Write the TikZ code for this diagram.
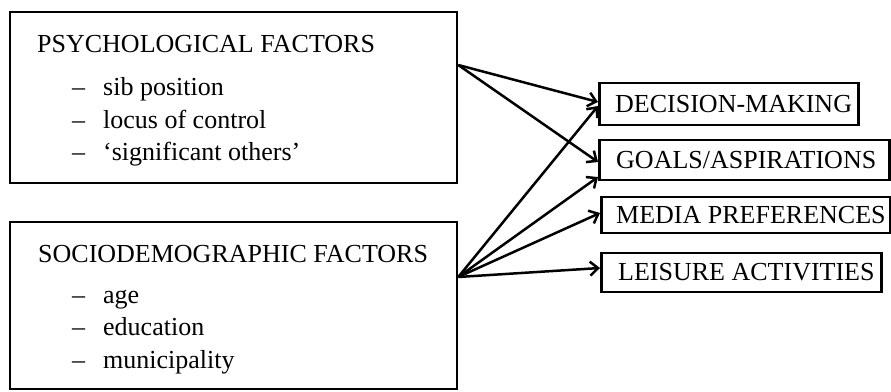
\documentclass[tikz,border=0pt]{standalone}
\usepackage{fontspec}
\setmainfont{Liberation Serif}
\usetikzlibrary{positioning,arrows.meta}
\tikzset{
  factorbox/.style={draw, line width=2.5pt, inner sep=0pt, minimum width=447pt},
  outbox/.style={draw, line width=2.5pt, inner sep=0pt, anchor=west},
  boxtext/.style={inner sep=0pt, anchor=base west},
  link/.style={line width=2.5pt, -{Straight Barb[length=8pt,width=14pt]}},
}
\begin{document}
\begin{tikzpicture}[x=1pt, y=1pt, font=\fontsize{26}{30}\selectfont]
  %\draw[help lines, step=50] (0,0) grid (891,391);
  \useasboundingbox (0,0) rectangle (891,391);

  \node[factorbox, minimum height=171pt] (psych) at (233.5,293.5) {};
  \node[boxtext] (psychtitle) at (37,338) {PSYCHOLOGICAL FACTORS};
  \node[boxtext] (sib) at (72,295) {--\hspace{18pt}sib position};
  \node[boxtext] (locus) at (72,262) {--\hspace{18pt}locus of control};
  \node[boxtext] (others) at (72,230) {--\hspace{18pt}‘significant others’};

  \node[factorbox, minimum height=167pt] (socio) at (233.5,85.5) {};
  \node[boxtext] (sociotitle) at (38,128) {SOCIODEMOGRAPHIC FACTORS};
  \node[boxtext] (age) at (72,88) {--\hspace{18pt}age};
  \node[boxtext] (educ) at (72,56) {--\hspace{18pt}education};
  \node[boxtext] (munic) at (72,23) {--\hspace{18pt}municipality};

  \node[outbox, minimum width=259pt, minimum height=42pt] (decide) at (598,287) {};
  \node[inner sep=0pt, right=17pt of decide.west] (decidetext) {DECISION-MAKING};
  \node[outbox, minimum width=290pt, minimum height=40pt] (goals) at (598,231) {};
  \node[inner sep=0pt, right=18pt of goals.west] (goalstext) {GOALS/ASPIRATIONS};
  \node[outbox, minimum width=289pt, minimum height=36pt] (media) at (600,176) {};
  \node[inner sep=0pt, right=16pt of media.west] (mediatext) {MEDIA PREFERENCES};
  \node[outbox, minimum width=280pt, minimum height=39pt] (leisure) at (600,118.5) {};
  \node[inner sep=0pt, right=18pt of leisure.west] (leisuretext) {LEISURE ACTIVITIES};

  \coordinate (psychout) at ([yshift=32.5pt]psych.east);
  \coordinate (socioout) at ([yshift=28.5pt]socio.east);
  \draw[link] (psychout) -- ([yshift=2pt]decide.west);
  \draw[link] (psychout) -- ([yshift=-2pt]goals.west);
  \draw[link] (socioout) -- ([yshift=-2pt]decide.west);
  \draw[link] (socioout) -- ([yshift=-17pt]goals.west);
  \draw[link] (socioout) -- ([yshift=2pt]media.west);
  \draw[link] (socioout) -- ([yshift=4.5pt]leisure.west);
\end{tikzpicture}
\end{document}
